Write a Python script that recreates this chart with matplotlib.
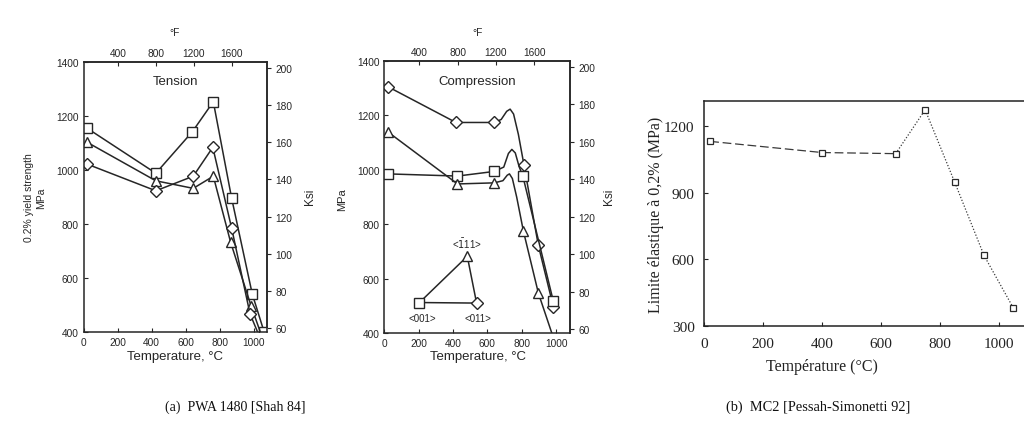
import matplotlib
matplotlib.use("Agg")
import matplotlib.pyplot as plt
import numpy as np

W, H = 1024, 427

# PWA 1480, tension: temperature (degC) and 0.2% yield strength (MPa)
ten_sq_t = [20, 425, 640, 763, 871, 992, 1062]
ten_sq_s = [1155, 988, 1142, 1253, 895, 541, 400]
ten_tri_t = [20, 425, 645, 763, 865, 985, 1045]
ten_tri_s = [1103, 960, 932, 977, 732, 497, 390]
ten_dia_t = [20, 425, 645, 760, 871, 979, 1030]
ten_dia_s = [1022, 923, 977, 1084, 784, 467, 390]

# PWA 1480, compression: curve vertices plus measured points
cmp_dia_t = [20, 417, 640, 680, 712, 732, 752, 780, 813, 896, 983]
cmp_dia_s = [1306, 1174, 1174, 1185, 1215, 1223, 1205, 1130, 1016, 722, 497]
cmp_dia_pts = [0, 1, 2, 8, 9, 10]
cmp_sq_t = [20, 426, 640, 695, 722, 742, 762, 785, 805, 983]
cmp_sq_s = [985, 977, 994, 1010, 1060, 1075, 1062, 1010, 979, 517]
cmp_sq_pts = [0, 1, 2, 8, 9]
cmp_tri_t = [20, 426, 640, 690, 715, 728, 745, 770, 809, 896, 990]
cmp_tri_s = [1140, 948, 952, 960, 980, 985, 968, 900, 775, 547, 370]
cmp_tri_pts = [0, 1, 2, 8, 9]

# orientation triangle inset (<001>, <111>, <011>)
tri_key_t = [205, 483, 537, 205]
tri_key_s = [512, 682, 510, 512]

# MC2
mc2_t = [20, 400, 650, 750, 850, 950, 1050]
mc2_s = [1130, 1080, 1075, 1272, 948, 618, 381]

sans = "Liberation Sans"
serif = "Liberation Serif"
ink = "#262626"


def px_axes(fig, x0, y0, x1, y1):
    return fig.add_axes([x0 / W, 1 - y1 / H, (x1 - x0) / W, (y1 - y0) / H])


def ftext(fig, x, y, s, **kw):
    fig.text(x / W, 1 - y / H, s, **kw)


def c2f(c):
    return c * 9 / 5 + 32


def f2c(f):
    return (f - 32) * 5 / 9


def mpa2ksi(m):
    return m / 6.895


def ksi2mpa(k):
    return k * 6.895


def style_shah(ax):
    ax.set_xlim(0, 1080)
    ax.set_ylim(400, 1400)
    ax.set_xticks([0, 200, 400, 600, 800, 1000])
    ax.set_yticks([400, 600, 800, 1000, 1200, 1400])
    ax.tick_params(direction="in", length=3, width=0.8, labelsize=7.3, pad=3.5,
                   colors=ink)
    for lab in ax.get_xticklabels() + ax.get_yticklabels():
        lab.set_family(sans)
    for sp in ax.spines.values():
        sp.set_linewidth(1.1)
        sp.set_color(ink)
    top = ax.secondary_xaxis("top", functions=(c2f, f2c))
    top.set_xticks([400, 800, 1200, 1600])
    top.tick_params(direction="in", length=3, labelsize=7.3, pad=3, colors=ink)
    right = ax.secondary_yaxis("right", functions=(mpa2ksi, ksi2mpa))
    right.set_yticks([60, 80, 100, 120, 140, 160, 180, 200])
    right.tick_params(direction="out", length=3, labelsize=7.3, pad=3, colors=ink)
    for a in (top, right):
        for lab in a.get_xticklabels() + a.get_yticklabels():
            lab.set_family(sans)
        for sp in a.spines.values():
            sp.set_linewidth(1.1)
            sp.set_color(ink)


mk = dict(markerfacecolor="white", markeredgecolor=ink, markeredgewidth=1.0)

fig = plt.figure(figsize=(W / 100, H / 100), dpi=100)

# (a) tension
ax1 = px_axes(fig, 83.6, 63, 267.2, 333)
ax1.plot(ten_sq_t, ten_sq_s, "-", color=ink, lw=1.1, marker="s", ms=7.5, **mk)
ax1.plot(ten_tri_t, ten_tri_s, "-", color=ink, lw=1.1, marker="^", ms=7.5,
         markevery=list(range(6)), **mk)
ax1.plot(ten_dia_t, ten_dia_s, "-", color=ink, lw=1.1, marker="D", ms=6.5,
         markevery=list(range(6)), **mk)
style_shah(ax1)
ax1.text(0.5, 0.95, "Tension", transform=ax1.transAxes, ha="center", va="top",
         fontsize=9.5, family=sans, color=ink)

# (a) compression
ax2 = px_axes(fig, 384.2, 62, 570, 334)
ax2.plot(cmp_dia_t, cmp_dia_s, "-", color=ink, lw=1.1, marker="D", ms=6.5,
         markevery=cmp_dia_pts, **mk)
ax2.plot(cmp_sq_t, cmp_sq_s, "-", color=ink, lw=1.1, marker="s", ms=7,
         markevery=cmp_sq_pts, **mk)
ax2.plot(cmp_tri_t, cmp_tri_s, "-", color=ink, lw=1.1, marker="^", ms=7,
         markevery=cmp_tri_pts, **mk)
ax2.plot(tri_key_t, tri_key_s, "-", color=ink, lw=1.1)
ax2.plot(tri_key_t[0], tri_key_s[0], marker="s", ms=7.5, **mk)
ax2.plot(tri_key_t[1], tri_key_s[1], marker="^", ms=7.5, **mk)
ax2.plot(tri_key_t[2], tri_key_s[2], marker="D", ms=6.5, **mk)
ax2.text(221, 455, "<001>", ha="center", va="center", fontsize=7, family=sans, color=ink)
ax2.text(545, 455, "<011>", ha="center", va="center", fontsize=7, family=sans, color=ink)
ax2.text(483, 732, r"<$\bar{1}$11>", ha="center", va="center", fontsize=7,
         family=sans, color=ink)
style_shah(ax2)
ax2.text(0.5, 0.95, "Compression", transform=ax2.transAxes, ha="center", va="top",
         fontsize=9.5, family=sans, color=ink)

# labels around the two Shah panels
for xc, xr in ((175, 310), (478, 609)):
    ftext(fig, xc, 33, "\u00b0F", ha="center", va="center", fontsize=7.3,
          family=sans, color=ink)
    ftext(fig, xc, 357, "Temperature, \u00b0C", ha="center", va="center",
          fontsize=9.5, family=sans, color=ink)
    ftext(fig, xr, 197, "Ksi", ha="center", va="center", rotation=90,
          fontsize=8.5, family=sans, color=ink)
ftext(fig, 35, 198, "0.2% yield strength\nMPa", ha="center", va="center",
      rotation=90, fontsize=7.5, family=sans, color=ink, linespacing=1.3)
ftext(fig, 342, 200, "MPa", ha="center", va="center", rotation=90,
      fontsize=8, family=sans, color=ink)

# (b) MC2
ax3 = px_axes(fig, 704.3, 102.3, 1028.2, 327.3)
ax3.plot(mc2_t[:3], mc2_s[:3], color="#3a3a3a", lw=0.9, ls=(0, (7, 3)))
ax3.plot(mc2_t[2:], mc2_s[2:], color="#3a3a3a", lw=0.9, ls=(0, (1, 1.5)))
ax3.plot(mc2_t, mc2_s, ls="none", marker="s", ms=4.8, markerfacecolor="white",
         markeredgecolor="#2a2a2a", markeredgewidth=0.9)
ax3.set_xlim(0, 1100)
ax3.set_ylim(300, 1310)
ax3.set_xticks([0, 200, 400, 600, 800, 1000])
ax3.set_yticks([300, 600, 900, 1200])
ax3.tick_params(direction="in", length=3, width=0.8, labelsize=11, pad=7,
                colors="#222222")
ax3.tick_params(axis="x", pad=8)
for lab in ax3.get_xticklabels() + ax3.get_yticklabels():
    lab.set_family(serif)
for sp in ax3.spines.values():
    sp.set_linewidth(1.1)
    sp.set_color("#222222")
ax3.set_ylabel("Limite \u00e9lastique \u00e0 0,2% (MPa)", family=serif, fontsize=11.5,
               labelpad=0, color="#222222")
ftext(fig, 822, 367, "Temp\u00e9rature (\u00b0C)", ha="center", va="center",
      family=serif, fontsize=11.5, color="#222222")

# captions
ftext(fig, 235, 407, "(a)  PWA 1480 [Shah 84]", ha="center", va="center",
      fontsize=10, family=serif, color="#111111")
ftext(fig, 818, 407, "(b)  MC2 [Pessah-Simonetti 92]", ha="center", va="center",
      fontsize=10.4, family=serif, color="#111111")

fig.savefig("out.png", dpi=100)
